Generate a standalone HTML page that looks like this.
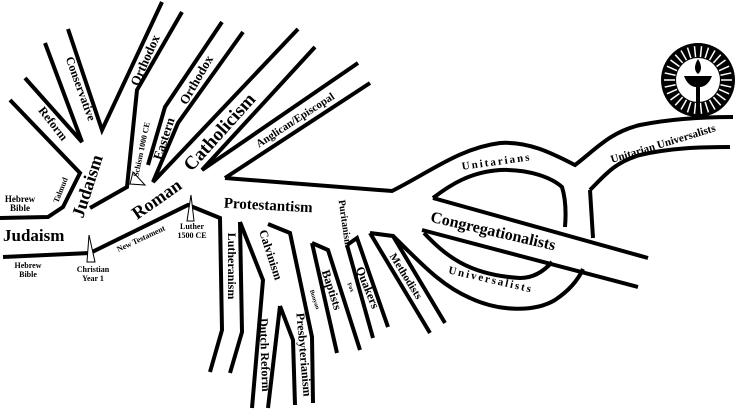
<!DOCTYPE html>
<html><head><meta charset="utf-8"><style>
html,body{margin:0;padding:0;background:#fff;}
svg{display:block;}
text{font-family:"Liberation Serif",serif;font-weight:bold;fill:#000;}
</style></head><body>
<svg width="736" height="411" viewBox="0 0 736 411" xmlns="http://www.w3.org/2000/svg">
<g fill="none" stroke="#000" stroke-width="4" stroke-linejoin="miter">
<polyline points="0,218 48,217 63,207 80,173 10,100"/>
<polyline points="25,78 82,142 45,43"/>
<polyline points="68,29 102,130 162,2"/>
<polyline points="90,208 127,187 137,90 182,12"/>
<polyline points="222,22 165,107 148,165"/>
<polyline points="243,32 178,123 153,182 298,29"/>
<polyline points="315,47 202,170 358,63"/>
<polyline points="370,83 225,178"/>
<path d="M225,178 L392,191 C430,172 460,148 500,143 C530,141 555,155 575,165 C595,150 610,132 640,125 C670,119 700,117 733,117"/>
<path d="M433,198 C450,185 470,172 500,170 C530,169 552,178 562,187 C566,200 566,215 565,227"/>
<polyline points="590,190 593,238"/>
<path d="M590,190 C605,175 615,162 640,155 C670,148 700,147 730,147"/>
<polyline points="433,198 648,258"/>
<polyline points="422,230 638,287"/>
<path d="M424,233 C445,255 468,275 520,278 C535,278 545,270 552,262"/>
<path d="M393,236 C420,262 440,285 470,298 C500,312 535,312 555,300 C570,290 578,280 583,269"/>
<polyline points="3,257 90,253 188,205 220,218 222,330 210,372"/>
<polyline points="240,222 242,332 230,373"/>
<polyline points="240,222 263,280 252,408"/>
<polyline points="268,224 290,233 312,337 313,403"/>
<polyline points="280,306 268,408"/>
<polyline points="280,306 293,340 295,405"/>
<polyline points="312,243 337,353"/>
<polyline points="312,243 328,250 360,350"/>
<polyline points="347,245 373,338"/>
<polyline points="347,245 357,238 388,327"/>
<polyline points="370,233 430,333"/>
<polyline points="370,233 393,236 445,323"/>
</g>
<g fill="#fff" stroke="#000" stroke-width="1">
<polygon points="133,172 145,185 130,184"/>
<polygon points="191,195 187,221 194,221"/>
<polygon points="89,235 87,262 95,262"/>
</g>
<g transform="translate(698,80)">
<circle r="37" fill="#000"/>
<g stroke="#fff" stroke-width="1.5">
<line x1="23" y1="0" x2="34" y2="0" transform="rotate(0)"/><line x1="23" y1="0" x2="34" y2="0" transform="rotate(12)"/><line x1="23" y1="0" x2="34" y2="0" transform="rotate(24)"/><line x1="23" y1="0" x2="34" y2="0" transform="rotate(36)"/><line x1="23" y1="0" x2="34" y2="0" transform="rotate(48)"/><line x1="23" y1="0" x2="34" y2="0" transform="rotate(60)"/><line x1="23" y1="0" x2="34" y2="0" transform="rotate(72)"/><line x1="23" y1="0" x2="34" y2="0" transform="rotate(84)"/><line x1="23" y1="0" x2="34" y2="0" transform="rotate(96)"/><line x1="23" y1="0" x2="34" y2="0" transform="rotate(108)"/><line x1="23" y1="0" x2="34" y2="0" transform="rotate(120)"/><line x1="23" y1="0" x2="34" y2="0" transform="rotate(132)"/><line x1="23" y1="0" x2="34" y2="0" transform="rotate(144)"/><line x1="23" y1="0" x2="34" y2="0" transform="rotate(156)"/><line x1="23" y1="0" x2="34" y2="0" transform="rotate(168)"/><line x1="23" y1="0" x2="34" y2="0" transform="rotate(180)"/><line x1="23" y1="0" x2="34" y2="0" transform="rotate(192)"/><line x1="23" y1="0" x2="34" y2="0" transform="rotate(204)"/><line x1="23" y1="0" x2="34" y2="0" transform="rotate(216)"/><line x1="23" y1="0" x2="34" y2="0" transform="rotate(228)"/><line x1="23" y1="0" x2="34" y2="0" transform="rotate(240)"/><line x1="23" y1="0" x2="34" y2="0" transform="rotate(252)"/><line x1="23" y1="0" x2="34" y2="0" transform="rotate(264)"/><line x1="23" y1="0" x2="34" y2="0" transform="rotate(276)"/><line x1="23" y1="0" x2="34" y2="0" transform="rotate(288)"/><line x1="23" y1="0" x2="34" y2="0" transform="rotate(300)"/><line x1="23" y1="0" x2="34" y2="0" transform="rotate(312)"/><line x1="23" y1="0" x2="34" y2="0" transform="rotate(324)"/><line x1="23" y1="0" x2="34" y2="0" transform="rotate(336)"/><line x1="23" y1="0" x2="34" y2="0" transform="rotate(348)"/>
</g>
<circle r="22" fill="#fff"/>
<path d="M-14,-4 L14,-4 C11,4 6,7 2,7 L2,25 L-2,25 L-2,7 C-6,7 -11,4 -14,-4Z" fill="#000"/>
<path d="M0,-21 C4,-15 4,-9 0,-6 C-4,-9 -4,-15 0,-21Z" fill="#000"/>
</g>
<text x="20" y="202" font-size="9" text-anchor="middle">Hebrew</text>
<text x="20" y="211" font-size="9" text-anchor="middle">Bible</text>
<text font-size="8" transform="translate(63,191) rotate(-68)" text-anchor="middle">Talmud</text>
<text font-size="18" transform="translate(93,188) rotate(-72)" text-anchor="middle">Judaism</text>
<text font-size="12" transform="translate(50,126) rotate(52)" text-anchor="middle">Reform</text>
<text font-size="12" transform="translate(77,90) rotate(70)" text-anchor="middle">Conservative</text>
<text font-size="13" transform="translate(149,62) rotate(-66)" text-anchor="middle">Orthodox</text>
<text font-size="8" transform="translate(144,150) rotate(-78)" text-anchor="middle">Schism 1000 CE</text>
<text font-size="13" transform="translate(168,140) rotate(-72)" text-anchor="middle">Eastern</text>
<text font-size="13" transform="translate(200,82) rotate(-60)" text-anchor="middle">Orthodox</text>
<text font-size="18" transform="translate(160,204) rotate(-35)" text-anchor="middle">Roman</text>
<text font-size="19" transform="translate(224,136) rotate(-48)" text-anchor="middle">Catholicism</text>
<text font-size="11" transform="translate(297,123) rotate(-33)" text-anchor="middle">Anglican/Episcopal</text>
<text x="3" y="241" font-size="17">Judaism</text>
<text x="28" y="268" font-size="8" text-anchor="middle">Hebrew</text>
<text x="28" y="277" font-size="8" text-anchor="middle">Bible</text>
<text x="93" y="272" font-size="8" text-anchor="middle">Christian</text>
<text x="93" y="281" font-size="8" text-anchor="middle">Year 1</text>
<text font-size="8" transform="translate(142,241) rotate(-25)" text-anchor="middle">New Testament</text>
<text x="192" y="229" font-size="8" text-anchor="middle">Luther</text>
<text x="192" y="238" font-size="8" text-anchor="middle">1500 CE</text>
<text font-size="15" transform="translate(268,210) rotate(3)" text-anchor="middle">Protestantism</text>
<text font-size="10" transform="translate(342,224) rotate(82)" text-anchor="middle">Puritanism</text>
<text font-size="12" transform="translate(228,266) rotate(90)" text-anchor="middle">Lutheranism</text>
<text font-size="12" transform="translate(267,256) rotate(72)" text-anchor="middle">Calvinism</text>
<text font-size="12" transform="translate(261,355) rotate(88)" text-anchor="middle">Dutch Reform</text>
<text font-size="12" transform="translate(300,355) rotate(85)" text-anchor="middle">Presbyterianism</text>
<text font-size="6" transform="translate(313,300) rotate(72)" text-anchor="middle">Bunyan</text>
<text font-size="12" transform="translate(328,291) rotate(72)" text-anchor="middle">Baptists</text>
<text font-size="6" transform="translate(349,288) rotate(68)" text-anchor="middle">Fox</text>
<text font-size="12" transform="translate(364,289) rotate(68)" text-anchor="middle">Quakers</text>
<text font-size="11" transform="translate(403,278) rotate(58)" text-anchor="middle">Methodists</text>
<text font-size="16" transform="translate(492,236) rotate(13)" text-anchor="middle">Congregationalists</text>
<text font-size="11" letter-spacing="2" transform="translate(490,283) rotate(13)" text-anchor="middle">Universalists</text>
<text font-size="11" letter-spacing="2" transform="translate(497,165) rotate(-8)" text-anchor="middle">Unitarians</text>
<text font-size="11" transform="translate(664,147) rotate(-17)" text-anchor="middle">Unitarian Universalists</text>
</svg>
</body></html>
